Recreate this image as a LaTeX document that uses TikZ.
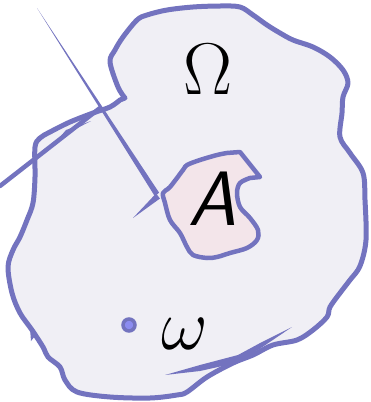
\documentclass[tikz,border=0pt]{standalone}
\usepackage{tikz}
\usetikzlibrary{calc}
\definecolor{sketch}{HTML}{7373BF}
\definecolor{regionfill}{HTML}{F0EFF5}
\definecolor{setfill}{HTML}{F3E5EA}
\definecolor{dotfill}{HTML}{8C8CF0}
\tikzstyle{outline} = [draw=sketch, line width=5pt, line join=round, line cap=round]
\tikzstyle{taper}   = [fill=sketch, draw=none]

\begin{document}
\begin{tikzpicture}[x=1pt, y=-1pt,
    lbl/.style={inner sep=0pt, text=black, font=\Huge},
    pt/.style={circle, fill=dotfill, draw=sketch, line width=3.5pt, minimum size=12pt, inner sep=0pt}]
  \useasboundingbox (0,0) rectangle (370,402);

  % the domain Omega
  \path[outline, fill=regionfill] plot[smooth, tension=0.55] coordinates {
    (125,98) (118,87) (110,62) (115,50) (123,37) (137,20) (147,15) (167,10)
    (193,7) (220,6) (240,7) (253,15) (267,25) (280,33) (293,40) (313,47)
    (330,57) (343,70) (348,83) (343,97) (342,113) (340,137) (350,153)
    (363,173) (365,200) (366,240) (360,266) (350,280) (340,293) (330,307)
    (327,317) (313,330) (297,340) (273,345) (253,355) (233,363) (207,377)
    (187,392) (177,395) (150,398) (110,397) (77,392) (65,380) (60,367)
    (48,357) (43,347) (32,330) (20,313) (12,293) (8,267) (13,250) (20,237)
    (27,220) (33,203) (35,177) (35,147) (40,138) (50,132) (70,122)
    (93,113) (110,107) (120,100)} -- cycle;

  % stray strokes
  \draw[sketch, line width=4.5pt, line cap=round] (0,186) -- (100,108);
  \fill[taper] (60,137) -- (66,130) -- (91,121) -- cycle;
  \fill[taper] (37,8) -- (159,192.5) -- (155,196.5) -- cycle;
  \fill[taper] (133,218) -- (156,193.5) -- (160,198.5) -- cycle;
  \fill[taper] (165,375) -- (200,365) -- (238,355) -- (262,342) -- (292,327)
    -- (258,350) -- (236,363) -- (200,371) -- cycle;
  \fill[taper] (30,328) -- (35,336) -- (31,341) -- cycle;

  % the subset A
  \path[outline, line width=4.5pt, fill=setfill] plot[smooth, tension=0.55] coordinates {
    (250,178) (240,183) (237,193) (240,207) (250,218) (258,230) (257,240)
    (247,248) (230,253) (217,257) (207,258) (193,255) (187,247) (180,233)
    (170,220) (165,203) (163,193) (170,187) (183,170) (187,165) (200,160)
    (217,155) (227,153)} -- (240,152) -- (260,177) -- cycle;

  \node[pt] (w) at (129,325) {};

  \node[lbl, scale=2.95] (Om) at (208,69) {$\Omega$};
  \node[lbl, scale=3.1, font=\Huge\sffamily\itshape] (A) at (213,199) {A};
  \node[lbl, scale=2.9] (om) at (185,334) {$\omega$};
\end{tikzpicture}
\end{document}
